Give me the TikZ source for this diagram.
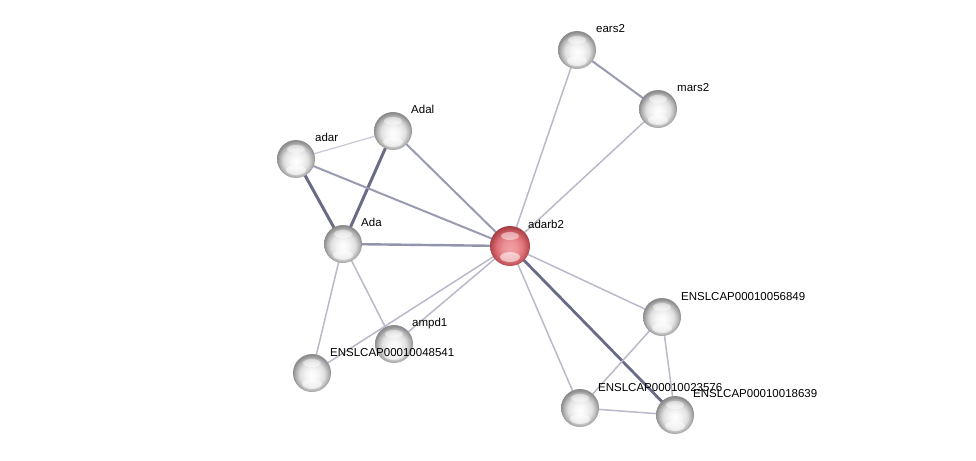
\documentclass[tikz,border=0pt]{standalone}
\usepackage{fontspec}
\setmainfont{Liberation Sans}
\usetikzlibrary{backgrounds}
\definecolor{weakc}{RGB}{184,186,202}
\definecolor{midc}{RGB}{152,155,178}
\definecolor{strongc}{RGB}{104,108,134}
\definecolor{redlight}{RGB}{240,160,165}
\definecolor{redbody}{RGB}{222,112,118}
\definecolor{reddark}{RGB}{168,62,68}
\pgfdeclareradialshading{greysphere}{\pgfpoint{0bp}{-3bp}}{%
  color(0bp)=(white); color(8bp)=(white!96!black); color(16bp)=(black!12);
  color(22bp)=(black!32); color(25bp)=(black!45); color(50bp)=(black!45)}
\pgfdeclareradialshading{redsphere}{\pgfpoint{0bp}{-3bp}}{%
  color(0bp)=(redlight); color(9bp)=(redlight!70!redbody); color(17bp)=(redbody);
  color(23bp)=(reddark!70!redbody); color(26bp)=(reddark); color(50bp)=(reddark)}
\begin{document}
\begin{tikzpicture}[x=1pt,y=-1pt,
  protein/.style={circle,minimum size=38pt,inner sep=0pt,shading=greysphere},
  query/.style={protein,shading=redsphere},
  lbl/.style={anchor=base west,font=\fontsize{11.5}{13}\selectfont,inner sep=0pt,text=black},
  weak/.style={draw=weakc,line width=1.5pt},
  mid/.style={draw=midc,line width=2pt},
  strong/.style={draw=strongc,line width=3pt}]
\useasboundingbox (0,0) rectangle (976,460);
% nodes
\node[protein] (ears2) at (577,50) {};
\node[protein] (mars2) at (658,109) {};
\node[protein] (Adal) at (393,131) {};
\node[protein] (adar) at (296,159) {};
\node[protein] (Ada) at (343,244) {};
\node[query,minimum size=40pt] (adarb2) at (510,246) {};
\node[protein] (ampd1) at (394,344) {};
\node[protein] (e48541) at (312,373) {};
\node[protein] (e56849) at (662,317) {};
\node[protein] (e23576) at (580,408) {};
\node[protein] (e18639) at (675,415) {};
% gloss
\foreach \n in {ears2,mars2,Adal,adar,Ada,ampd1,e48541,e56849,e23576,e18639,adarb2}{
  \fill[white,opacity=0.55] ([yshift=-11pt]\n.center) ellipse (10pt and 5pt);
  \fill[white,opacity=0.45] ([yshift=10pt]\n.center) ellipse (9pt and 4pt);
}
% labels
\node[lbl] (l-ears2) at (596,33) {ears2};
\node[lbl] (l-mars2) at (677,91) {mars2};
\node[lbl] (l-Adal) at (411,113) {Adal};
\node[lbl] (l-adar) at (315,141) {adar};
\node[lbl] (l-Ada) at (361,226) {Ada};
\node[lbl] (l-adarb2) at (528,228) {adarb2};
\node[lbl] (l-ampd1) at (412,326) {ampd1};
\node[lbl] (l-e48541) at (330,356) {ENSLCAP00010048541};
\node[lbl] (l-e56849) at (681,300) {ENSLCAP00010056849};
\node[lbl] (l-e23576) at (598,391) {ENSLCAP00010023576};
\node[lbl] (l-e18639) at (693,397) {ENSLCAP00010018639};
% edges
\begin{scope}[on background layer]
\draw[mid] (ears2.center) -- (mars2.center);
\draw[weak] (ears2.center) -- (adarb2.center);
\draw[weak] (mars2.center) -- (adarb2.center);
\draw[weak,line width=1.2pt,draw=weakc!80!white] (adar.center) -- (Adal.center);
\draw[strong] (adar.center) -- (Ada.center);
\draw[strong] (Adal.center) -- (Ada.center);
\draw[mid] (Adal.center) -- (adarb2.center);
\draw[mid] (adar.center) -- (adarb2.center);
\draw[mid,line width=2.4pt,draw=midc!85!strongc] (Ada.center) -- (adarb2.center);
\draw[weak] (Ada.center) -- (ampd1.center);
\draw[weak] (Ada.center) -- (e48541.center);
\draw[weak] (adarb2.center) -- (ampd1.center);
\draw[weak] (adarb2.center) -- (e48541.center);
\draw[weak] (adarb2.center) -- (e56849.center);
\draw[weak] (adarb2.center) -- (e23576.center);
\draw[strong,line width=2.8pt] (adarb2.center) -- (e18639.center);
\draw[weak] (e56849.center) -- (e23576.center);
\draw[weak] (e56849.center) -- (e18639.center);
\draw[weak] (e23576.center) -- (e18639.center);
\end{scope}
\end{tikzpicture}
\end{document}
